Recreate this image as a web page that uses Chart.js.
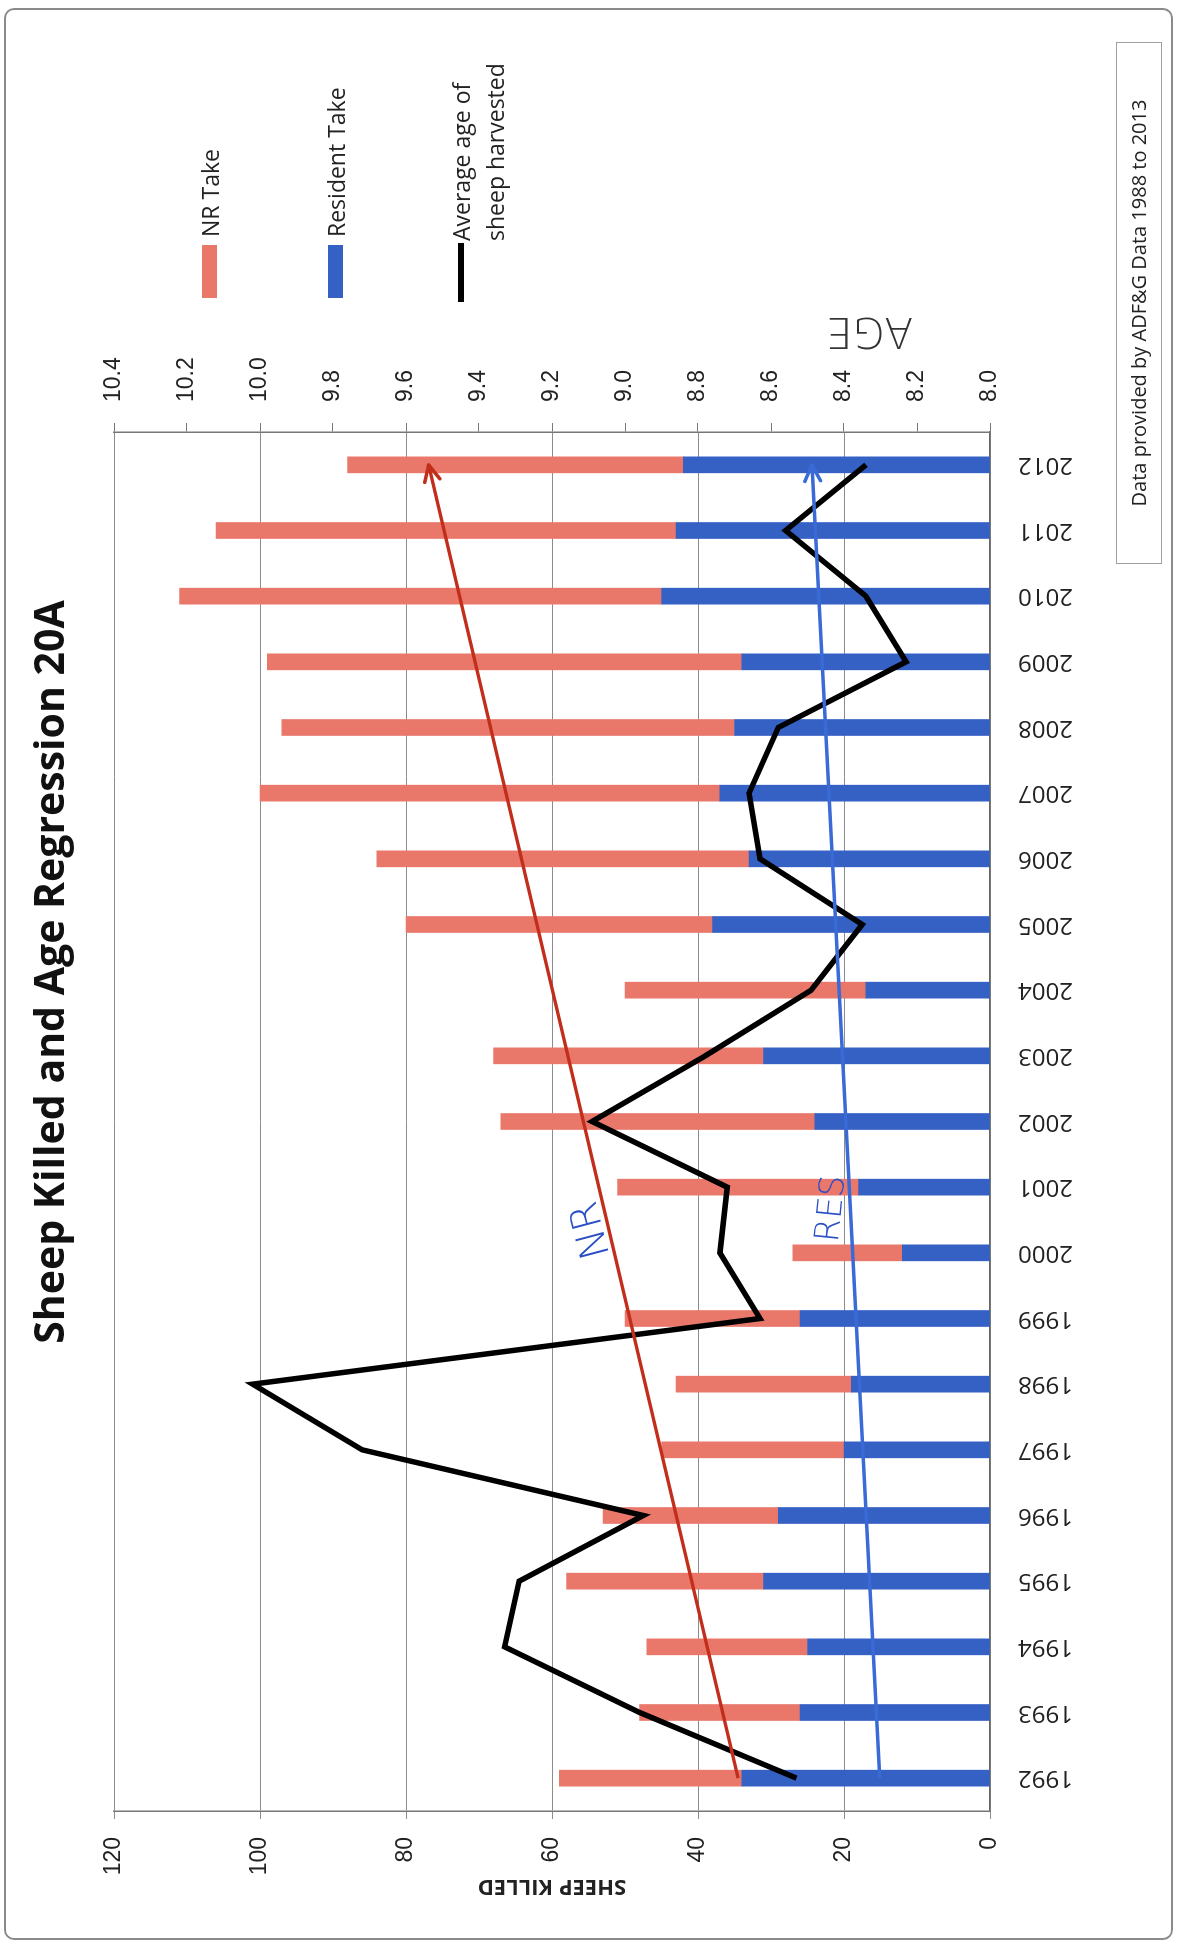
<!DOCTYPE html>
<html lang="en">
<head>
    <meta charset="UTF-8">
    <title>Sheep Killed and Age Regression 20A</title>
    <script src="https://cdn.jsdelivr.net/npm/chart.js"></script>
    <style>
        html, body {
            margin: 0;
            padding: 0;
            background: #ffffff;
            overflow: hidden;
        }

        /* the chart is laid out landscape and turned a quarter left */
        #land {
            position: absolute;
            left: 0;
            top: 0;
            width: 1944px;
            height: 1177px;
            transform-origin: 0 0;
            transform: translateY(1944px) rotate(-90deg);
            font-family: "Open Sans", sans-serif;
            color: #222;
        }

        .frame {
            position: absolute;
            left: 4px;
            top: 4px;
            width: 1928px;
            height: 1165px;
            border: 2px solid #8a8a8a;
            border-radius: 10px;
        }

        .title {
            position: absolute;
            left: 0;
            top: 24px;
            width: 1944px;
            text-align: center;
            font-weight: 700;
            font-size: 41px;
            line-height: 48px;
            color: #111;
        }

        .swatch {
            position: absolute;
        }

        .legend-text {
            position: absolute;
            font-size: 23px;
            line-height: 34px;
            color: #222;
            white-space: nowrap;
        }

        .source {
            position: absolute;
            left: 1380px;
            top: 1116px;
            width: 520px;
            height: 44px;
            border: 1px solid #a0a0a0;
            font-size: 20px;
            line-height: 44px;
            text-align: center;
            color: #222;
        }

        canvas {
            position: absolute;
            left: 0;
            top: 0;
        }
    </style>
</head>
<body>
    <div id="land">
        <canvas id="sheepChart" width="1944" height="1177" style="width:1944px;height:1177px"></canvas>
        <div class="frame"></div>
        <div class="title">Sheep Killed and Age Regression 20A</div>

        <!-- legend -->
        <div class="swatch" style="left:1646px;top:202px;width:53px;height:15px;background:#e9786b"></div>
        <div class="legend-text" style="left:1707px;top:193px">NR Take</div>
        <div class="swatch" style="left:1646px;top:328px;width:53px;height:15px;background:#3560c4"></div>
        <div class="legend-text" style="left:1707px;top:319px">Resident Take</div>
        <div class="swatch" style="left:1642px;top:458px;width:59px;height:6px;background:#000"></div>
        <div class="legend-text" style="left:1703px;top:444px">Average age of<br>sheep harvested</div>

        <div class="source">Data provided by ADF&amp;G Data 1988 to 2013</div>
    </div>

    <script>
        const years = ['1992', '1993', '1994', '1995', '1996', '1997', '1998', '1999', '2000', '2001', '2002',
            '2003', '2004', '2005', '2006', '2007', '2008', '2009', '2010', '2011', '2012'];
        const residentTake = [34, 26, 25, 31, 29, 20, 19, 26, 12, 18, 24, 31, 17, 38, 33, 37, 35, 34, 45, 43, 42];
        const nrTake = [25, 22, 22, 27, 24, 25, 24, 24, 15, 33, 43, 37, 33, 42, 51, 63, 62, 65, 66, 63, 46];
        const avgAge = [8.53, 8.96, 9.33, 9.29, 8.95, 9.72, 10.02, 8.63, 8.74, 8.72, 9.09,
            8.78, 8.49, 8.35, 8.63, 8.66, 8.58, 8.23, 8.34, 8.56, 8.34];

        // hand drawn trend arrows, read at the first and last year
        const trendYears = ['1992', '2012'];
        const nrTrend = [34.5, 76.9];
        const resTrend = [15.1, 24.4];

        const sheepTicks = { min: 0, max: 120, step: 20 };
        const ageTicks = { min: 8.0, max: 10.4, step: 0.2 };

        const tickFont = { family: '"Liberation Sans", Arial, sans-serif', size: 23 };

        function trendPoints(values) {
            return trendYears.map((yr, i) => ({ x: yr, y: values[i] }));
        }

        // arrow heads on the trend lines and the pen notes
        const penNotes = {
            id: 'penNotes',
            afterDatasetsDraw(chart) {
                const { ctx, chartArea } = chart;
                const { x, y, yAge } = chart.scales;

                chart.data.datasets.forEach((ds, i) => {
                    if (!ds.arrow) return;
                    const pts = chart.getDatasetMeta(i).data;
                    const a = pts[pts.length - 2];
                    const b = pts[pts.length - 1];
                    const ang = Math.atan2(b.y - a.y, b.x - a.x);
                    ctx.save();
                    ctx.strokeStyle = ds.borderColor;
                    ctx.lineWidth = ds.borderWidth;
                    ctx.lineCap = 'round';
                    ctx.beginPath();
                    [-0.45, 0.45].forEach(d => {
                        ctx.moveTo(b.x, b.y);
                        ctx.lineTo(b.x - 18 * Math.cos(ang + d), b.y - 18 * Math.sin(ang + d));
                    });
                    ctx.stroke();
                    ctx.restore();
                });

                ctx.save();
                ctx.textAlign = 'center';
                ctx.textBaseline = 'middle';
                ctx.fillStyle = '#2b4fc4';

                ctx.save();
                ctx.font = '200 40px "DejaVu Sans"';
                ctx.translate(x.getPixelForValue(8.35), y.getPixelForValue(54.5));
                ctx.rotate(-0.26);
                ctx.fillText('NR', 0, 0);
                ctx.restore();

                ctx.save();
                ctx.font = '200 34px "DejaVu Sans"';
                ctx.translate(x.getPixelForValue(8.67), y.getPixelForValue(21.6));
                ctx.rotate(0.1);
                ctx.fillText('RES', 0, 0);
                ctx.restore();

                ctx.save();
                ctx.fillStyle = '#333';
                ctx.font = '200 42px "DejaVu Sans"';
                ctx.translate(chartArea.right + 103, yAge.getPixelForValue(8.33));
                ctx.rotate(-Math.PI / 2);
                ctx.fillText('AGE', 0, 0);
                ctx.restore();

                ctx.restore();
            }
        };

        new Chart(document.getElementById('sheepChart').getContext('2d'), {
            data: {
                labels: years,
                datasets: [
                    {
                        type: 'line',
                        label: 'NR trend',
                        data: trendPoints(nrTrend),
                        borderColor: '#c22e1c',
                        borderWidth: 3.5,
                        pointRadius: 0,
                        stack: 'nrTrend',
                        arrow: true,
                        order: 0
                    },
                    {
                        type: 'line',
                        label: 'Resident trend',
                        data: trendPoints(resTrend),
                        borderColor: '#3a6ad6',
                        borderWidth: 3.5,
                        pointRadius: 0,
                        stack: 'resTrend',
                        arrow: true,
                        order: 0
                    },
                    {
                        type: 'line',
                        label: 'Average age of sheep harvested',
                        data: avgAge,
                        yAxisID: 'yAge',
                        borderColor: '#000000',
                        borderWidth: 5.5,
                        pointRadius: 0,
                        tension: 0,
                        order: 1
                    },
                    {
                        type: 'bar',
                        label: 'Resident Take',
                        data: residentTake,
                        backgroundColor: '#3560c4',
                        barThickness: 16,
                        stack: 'take',
                        order: 2
                    },
                    {
                        type: 'bar',
                        label: 'NR Take',
                        data: nrTake,
                        backgroundColor: '#e9786b',
                        barThickness: 16,
                        stack: 'take',
                        order: 2
                    }
                ]
            },
            options: {
                responsive: false,
                animation: false,
                layout: { padding: { top: 114, left: 0, right: 0, bottom: 0 } },
                plugins: {
                    legend: { display: false },
                    tooltip: { enabled: false }
                },
                scales: {
                    x: {
                        stacked: true,
                        offset: true,
                        grid: { display: false },
                        border: { display: true, color: '#666', width: 1.5 },
                        ticks: {
                            autoSkip: false,
                            minRotation: 90,
                            maxRotation: 90,
                            padding: 20,
                            color: '#222',
                            font: { family: '"Open Sans", sans-serif', size: 24 }
                        },
                        afterFit: s => { s.height = 187; }
                    },
                    y: {
                        stacked: true,
                        position: 'left',
                        min: sheepTicks.min,
                        max: sheepTicks.max,
                        grid: { color: '#8c8c8c', lineWidth: 1, tickLength: 8 },
                        border: { display: true, color: '#777', width: 1.5 },
                        ticks: {
                            stepSize: sheepTicks.step,
                            padding: 18,
                            color: '#222',
                            font: tickFont
                        },
                        title: {
                            display: true,
                            text: 'SHEEP KILLED',
                            color: '#222',
                            font: { family: '"Open Sans", sans-serif', size: 22, weight: 'bold' },
                            padding: { top: 45 }
                        },
                        afterFit: s => { s.width = 133; }
                    },
                    yAge: {
                        position: 'right',
                        min: ageTicks.min,
                        max: ageTicks.max,
                        grid: { drawOnChartArea: false, color: '#777', tickLength: 9 },
                        border: { display: true, color: '#777', width: 1.5 },
                        ticks: {
                            stepSize: ageTicks.step,
                            padding: 21,
                            color: '#222',
                            font: tickFont,
                            callback: v => Number(v).toFixed(1)
                        },
                        afterFit: s => { s.width = 432; }
                    }
                }
            },
            plugins: [penNotes]
        });
    </script>
</body>
</html>
